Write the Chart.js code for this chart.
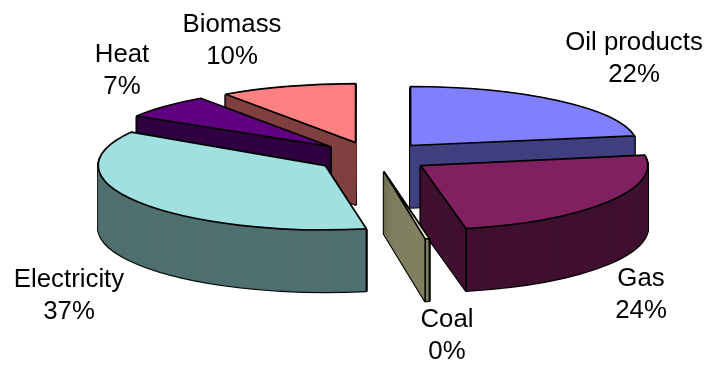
<!DOCTYPE html>
<html>
<head>
<meta charset="utf-8">
<style>
  html, body { margin: 0; padding: 0; background: #fff; }
  #wrap { width: 709px; height: 367px; }
</style>
<script src="https://cdn.jsdelivr.net/npm/chart.js@4/dist/chart.umd.js"></script>
</head>
<body>
<div id="wrap"><canvas id="pie" width="709" height="367"></canvas></div>
<script>
// Final energy use by carrier, share in percent (shown rounded)
const categories = ['Oil products', 'Gas', 'Coal', 'Electricity', 'Heat', 'Biomass'];
const shares = [22.4, 24.4, 0.3, 36.6, 6.6, 9.7];
const topColors = ['#8080FF', '#802060', '#FFFFC0', '#A0E0E0', '#600080', '#FF8080'];
const wallColors = ['#404080', '#401030', '#808060', '#507070', '#300040', '#804040'];

// Painter's order for the exploded slices, rear ones first
const paintOrder = [5, 4, 0, 3, 1, 2];

// Label centre (x) and first-line baseline (y) for each category
const labelAnchors = [[634, 50], [641, 286], [447, 327], [69, 287], [122, 62], [232, 32]];

// Tilted-disc projection
const discCentre = { x: 373, y: 157 };
const discRadius = 227;
const tilt = 0.26;
const nearGain = 0.16;
const explode = 58;
const depth = 62;

const tiltedPie = {
  id: 'tiltedPie',
  beforeDatasetsDraw(chart) {
    const ctx = chart.ctx;
    const arcs = chart.getDatasetMeta(0).data;
    const scale = discRadius / arcs[0].outerRadius;

    // Stroke in device space so outlines keep an even width on the squashed disc
    const plainStroke = ctx.stroke;
    ctx.stroke = function () {
      ctx.save();
      ctx.setTransform(1, 0, 0, 1, 0, 0);
      plainStroke.call(ctx);
      ctx.restore();
    };

    const place = (arc, drop) => {
      const mid = (arc.startAngle + arc.endAngle) / 2;
      // Slices on the near side open up slightly, as in a perspective view
      const rimTilt = tilt * (1 + nearGain * Math.max(0, Math.sin(mid)));
      ctx.setTransform(1, 0, 0, 1, 0, 0);
      ctx.translate(discCentre.x + Math.cos(mid) * explode,
                    discCentre.y + Math.sin(mid) * explode * tilt + drop);
      ctx.scale(scale, scale * rimTilt);
      ctx.translate(-arc.x, -arc.y);
    };
    const drawWith = (arc, overrides) => {
      const saved = arc.options;
      arc.options = { ...saved, borderJoinStyle: 'round', ...overrides };
      arc.draw(ctx);
      arc.options = saved;
    };

    ctx.save();
    for (const i of paintOrder) {
      const arc = arcs[i];

      // Silhouette of the extruded slice
      for (let d = depth; d >= 1; d--) {
        place(arc, d);
        drawWith(arc, { backgroundColor: '#000', borderColor: '#000', borderWidth: 2.6 });
      }
      // Wall fill, with a matching stroke so the stacked edges leave no seams
      for (let d = depth; d >= 1; d--) {
        place(arc, d);
        drawWith(arc, { backgroundColor: wallColors[i], borderColor: wallColors[i], borderWidth: 0.5 });
      }
      // Vertical edges where a cut face meets the curved wall on the near side
      place(arc, 0);
      const m = ctx.getTransform();
      ctx.setTransform(1, 0, 0, 1, 0, 0);
      ctx.strokeStyle = '#000';
      ctx.lineWidth = 1.6;
      for (const a of [arc.startAngle, arc.endAngle]) {
        if (Math.sin(a) < 0) continue;
        const p = m.transformPoint({
          x: arc.x + Math.cos(a) * arc.outerRadius,
          y: arc.y + Math.sin(a) * arc.outerRadius
        });
        ctx.beginPath();
        ctx.moveTo(p.x, p.y);
        ctx.lineTo(p.x, p.y + depth);
        plainStroke.call(ctx);
      }
      // Top face
      place(arc, 0);
      drawWith(arc, { backgroundColor: topColors[i], borderColor: '#000', borderWidth: 1.7 });
    }
    ctx.restore();
    delete ctx.stroke;
    return false;
  },
  afterDraw(chart) {
    const ctx = chart.ctx;
    ctx.save();
    ctx.fillStyle = '#000';
    ctx.font = '25.8px "Liberation Sans", Arial, sans-serif';
    ctx.textAlign = 'center';
    ctx.textBaseline = 'alphabetic';
    categories.forEach((name, i) => {
      const [x, y] = labelAnchors[i];
      ctx.fillText(name, x, y);
      ctx.fillText(Math.round(shares[i]) + '%', x, y + 32);
    });
    ctx.restore();
  }
};

new Chart(document.getElementById('pie'), {
  type: 'pie',
  data: {
    labels: categories,
    datasets: [{ data: shares, backgroundColor: topColors, borderColor: '#000', borderWidth: 0 }]
  },
  options: {
    responsive: false,
    animation: false,
    layout: { padding: 0 },
    events: [],
    plugins: { legend: { display: false }, tooltip: { enabled: false } }
  },
  plugins: [tiltedPie]
});
</script>
</body>
</html>
